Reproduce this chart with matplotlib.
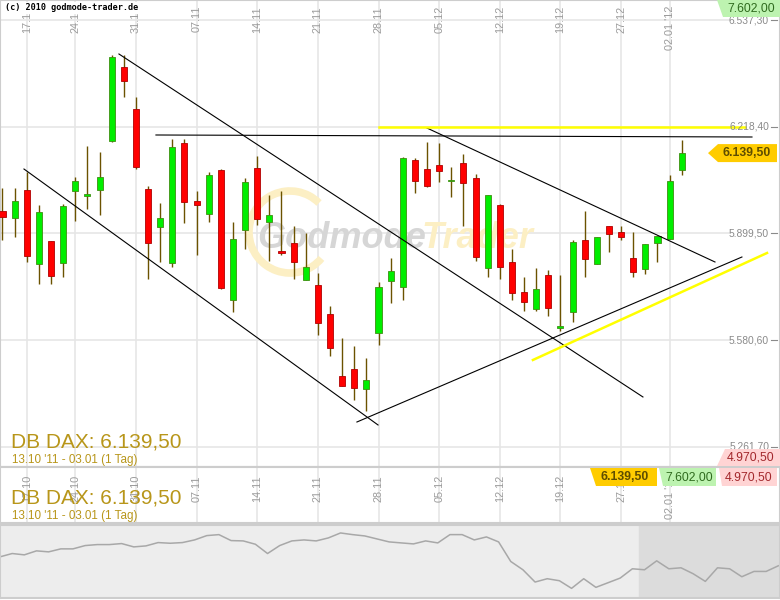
import matplotlib
matplotlib.use("Agg")
import matplotlib.pyplot as plt
from matplotlib.patches import Polygon, Arc
from matplotlib.transforms import blended_transform_factory, IdentityTransform
import numpy as np

plt.rcParams['font.family'] = ['Liberation Sans', 'DejaVu Sans']

# daily DAX candles, 13.10.2011 - 03.01.2012
opens = [5966.4, 5945.5, 6029.2, 5808.0, 5876.8, 5811.0, 6026.2, 6011.3, 6029.2, 6175.7,
         6396.8, 6271.3, 6032.2, 5918.6, 5811.0, 6169.7, 5996.3, 5957.5, 6089.0, 5700.4,
         5909.6, 6094.9, 5933.5, 5846.9, 5870.8, 5760.2, 5745.2, 5658.6, 5473.2, 5494.2,
         5434.4, 5601.8, 5757.2, 5739.3, 6118.9, 6092.0, 6103.9, 6056.1, 6109.9, 6065.1,
         5796.0, 5984.4, 5814.0, 5724.3, 5673.5, 5775.1, 5616.7, 5664.5, 5879.7, 5808.0,
         5921.6, 5903.7, 5825.9, 5793.1, 5870.8, 5882.7, 6089.0]
highs = [6035.2, 6035.2, 6083.0, 5984.4, 5878.0, 5987.4, 6068.0, 6160.7, 6142.8, 6432.7,
         6432.7, 6307.2, 6040.0, 5990.3, 6181.6, 6181.6, 6026.2, 6083.0, 6092.0, 5933.5,
         6065.1, 6130.8, 6014.2, 6026.2, 5921.6, 5900.7, 5781.1, 5682.5, 5586.8, 5562.9,
         5527.0, 5754.2, 5825.9, 6127.8, 6124.8, 6172.7, 6169.7, 6097.9, 6136.8, 6077.0,
         6014.2, 5987.4, 5852.8, 5769.1, 5796.0, 5790.1, 5775.1, 5879.7, 5966.4, 5888.7,
         5921.6, 5921.6, 5903.7, 5867.8, 5891.7, 6074.0, 6178.6]
lows = [5879.7, 5888.7, 5814.0, 5748.2, 5748.2, 5769.1, 5936.5, 5972.4, 5954.5, 6172.0,
        6307.2, 6092.0, 5763.2, 5814.0, 5799.0, 5930.6, 5834.9, 5933.5, 5733.3, 5664.5,
        5852.8, 5924.6, 5817.0, 5834.9, 5763.2, 5760.2, 5595.8, 5533.0, 5443.3, 5401.5,
        5368.6, 5565.9, 5691.4, 5700.4, 6020.2, 6038.0, 6053.1, 6008.3, 5921.6, 5817.0,
        5769.1, 5763.2, 5700.4, 5667.5, 5667.5, 5652.6, 5607.7, 5634.6, 5769.1, 5808.0,
        5843.9, 5879.7, 5769.1, 5778.1, 5814.0, 5882.7, 6074.0]
closes = [5948.5, 5996.3, 5831.9, 5963.4, 5772.1, 5981.4, 6056.1, 6017.2, 6068.0, 6426.7,
          6355.0, 6097.9, 5870.8, 5945.5, 6157.7, 5993.3, 5984.4, 6074.0, 5736.3, 5882.7,
          6053.1, 5942.5, 5954.5, 5840.9, 5814.0, 5799.0, 5631.7, 5556.9, 5443.3, 5437.4,
          5461.3, 5739.3, 5787.1, 6124.8, 6056.1, 6041.1, 6086.0, 6059.1, 6050.1, 5828.9,
          6014.2, 5799.0, 5721.3, 5694.4, 5733.3, 5676.5, 5622.7, 5873.8, 5822.9, 5888.7,
          5897.7, 5888.7, 5784.1, 5867.8, 5891.7, 6056.1, 6139.5]

date_idx = [2, 6, 11, 16, 21, 26, 31, 36, 41, 46, 51, 55]
date_labels = ['17.10', '24.10', '31.10', '07.11', '14.11', '21.11', '28.11',
               '05.12', '12.12', '19.12', '27.12', "02.01 '12"]

price_ticks = [6537.30, 6218.40, 5899.50, 5580.60, 5261.70]

# hand drawn trend lines: (index, price) start and end
black_lines = [((9.60, 6435.7), (52.80, 5410.5)),
               ((1.77, 6091.9), (30.96, 5326.8)),
               ((29.22, 5335.7), (60.96, 5828.9)),
               ((34.99, 6214.5), (58.74, 5814.0)),
               ((12.65, 6193.6), (61.79, 6187.6))]
yellow_lines = [((31.04, 6218.4), (61.21, 6218.4)),
                ((43.73, 5521.1), (63.03, 5840.9))]

# weekly overview in the bottom strip
overview = [6467, 6625, 6562, 6751, 6704, 6846, 6846, 7003, 7050, 7050, 7098, 6940, 6987,
            7145, 7113, 7145, 7271, 7476, 7523, 7240, 7224, 7066, 6625, 7003, 7224, 7271,
            7224, 7366, 7602, 7523, 7460, 7318, 7177, 7129, 7082, 7224, 7129, 7523, 7523,
            7271, 7413, 7177, 6247, 5853, 5270, 5428, 5333, 4970, 5428, 5018, 5238, 5459,
            5900, 5853, 6278, 5900, 5947, 5664, 5301, 5947, 5900, 5522, 5774, 5774, 6042]

last_txt = '6.139,50'
max_txt = '7.602,00'
min_txt = '4.970,50'

W, H = 780, 600


def P(x, y):
    return (x / W, 1 - y / H)


fig = plt.figure(figsize=(7.8, 6), dpi=100)
frame = '#cdcdcd'
grid = '#e6e6e6'

# ---------------- main panel
ax = fig.add_axes([0, 1 - 467 / H, 1, 467 / H])
ax.set_xlim(-0.206, 64.1)
ax.set_ylim(5201.2, 6597.1)
ax.set_xticks([])
ax.set_yticks([])
for s in ax.spines.values():
    s.set_color(frame)
    s.set_linewidth(1.5)

for i in date_idx:
    ax.axvline(i, color=grid, lw=1.2, zorder=0)
ax.hlines(price_ticks, -0.3, 60.1, color=grid, lw=1.2, zorder=0)

# watermark
ax.text(*P(257, 248), 'Godmode', transform=fig.transFigure, fontsize=26,
        weight='bold', style='italic', color='#d6d6d6', zorder=1)
ax.text(*P(421, 248), 'Trader', transform=fig.transFigure, fontsize=26,
        weight='bold', style='italic', color='#fcefc4', zorder=1)
ax.add_patch(Arc((290, H - 232), 82, 82, theta1=45, theta2=320, lw=5.5,
                 color='#fcefc4', transform=IdentityTransform(), zorder=1))

o = np.array(opens); c = np.array(closes)
up = c >= o
idx = np.arange(len(o))
ax.vlines(idx, lows, highs, color='#6b5200', lw=1.0, zorder=3)
body_lo = np.minimum(o, c)
body_h = np.maximum(np.abs(c - o), 4)
ax.bar(idx[up], body_h[up], bottom=body_lo[up], width=0.5, color='#00ee00',
       edgecolor='#3d8f10', lw=0.6, zorder=4)
ax.bar(idx[~up], body_h[~up], bottom=body_lo[~up], width=0.5, color='#ff0000',
       edgecolor='#b00000', lw=0.6, zorder=4)

for (x0, y0), (x1, y1) in black_lines:
    ax.plot([x0, x1], [y0, y1], color='black', lw=0.8, zorder=5)
for (x0, y0), (x1, y1) in yellow_lines:
    ax.plot([x0, x1], [y0, y1], color='#ffff00', lw=1.8, zorder=5)

for i, lab in zip(date_idx, date_labels):
    ax.text(i, 6597.1 - 6 * 2.989, lab, rotation=90, ha='center', va='top',
            fontsize=7.8, color='#9b9b9b', zorder=2)

bt = blended_transform_factory(ax.transAxes, ax.transData)
for p in price_ticks:
    lab = f'{p:,.2f}'.replace(',', 'X').replace('.', ',').replace('X', '.')
    ax.text(0.986, p, lab, transform=bt, ha='right', va='center', fontsize=7.4,
            color='#8a8a8a', zorder=6)
    ax.plot([0.988, 0.996], [p, p], transform=bt, color='#8a8a8a', lw=0.8, zorder=6)

ax.text(*P(5, 8), '(c) 2010 godmode-trader.de', transform=fig.transFigure,
        family='DejaVu Sans Mono', fontsize=6.1, weight='bold', va='center',
        color='black', zorder=7,
        bbox=dict(facecolor='white', edgecolor='none', pad=1))

# ---------------- date strip
ax2 = fig.add_axes([0, 1 - 523 / H, 1, 56 / H])
ax2.set_xlim(-0.206, 64.1)
ax2.set_ylim(0, 1)
ax2.set_xticks([])
ax2.set_yticks([])
for s in ax2.spines.values():
    s.set_color(frame)
    s.set_linewidth(1.5)
for i, lab in zip(date_idx, date_labels):
    ax2.axvline(i, color=grid, lw=1.2, zorder=0)
    ax2.text(i, (523 - 475) / 56, lab, rotation=90, ha='center', va='top',
             fontsize=7.8, color='#9b9b9b')

# ---------------- overview strip
ax3 = fig.add_axes([0, 2 / H, 1, 73 / H])
ax3.set_facecolor('#ededed')
ax3.set_xlim(0, 64.14)
ax3.set_ylim(4512, 7980)
ax3.axvspan(52.55, 64.2, color='#dcdcdc', zorder=0)
ax3.plot(np.arange(len(overview)), overview, color='#a8a8a8', lw=1.1)
ax3.set_xticks([])
ax3.set_yticks([])
for s in ax3.spines.values():
    s.set_color(frame)
    s.set_linewidth(1.5)

# ---------------- titles
gold = '#b8961a'
for yb, ys in [(448, 463), (504, 519)]:
    fig.text(*P(11, yb), 'DB DAX: ' + last_txt, fontsize=15, color=gold, va='baseline')
    fig.text(*P(12, ys), "13.10 '11 - 03.01 (1 Tag)", fontsize=8.4, color=gold,
             va='baseline')

# ---------------- badges
def badge(pts, fc, txt, tc, cx, cy, bold=False):
    fig.add_artist(Polygon([P(x, y) for x, y in pts], closed=True, fc=fc, ec='none',
                           transform=fig.transFigure, zorder=8))
    fig.text(*P(cx, cy), txt, ha='center', va='center', fontsize=8.8, color=tc,
             weight='bold' if bold else 'normal', zorder=9)

green_fc, green_tc = '#bdf3b0', '#2f6b1e'
pink_fc, pink_tc = '#ffd4d4', '#a3282c'
yell_fc, yell_tc = '#ffcc00', '#5e4d00'

yl = H - ax.transData.transform((0, closes[-1]))[1]
badge([(708, yl), (718, yl - 9), (777, yl - 9), (777, yl + 9), (718, yl + 9)],
      yell_fc, last_txt, yell_tc, 747, yl, bold=True)
badge([(717, 0), (780, 0), (780, 17), (723, 17)], green_fc, max_txt, green_tc, 751, 8.5)
badge([(725, 449), (780, 449), (780, 466), (717, 466)], pink_fc, min_txt, pink_tc, 751, 457.5)

badge([(590, 468), (657, 468), (657, 486), (596, 486)], yell_fc, last_txt, yell_tc, 625, 477, bold=True)
badge([(659, 468), (716, 468), (716, 486), (663, 486)], green_fc, max_txt, green_tc, 689, 477)
badge([(719, 468), (777, 468), (777, 486), (722, 486)], pink_fc, min_txt, pink_tc, 749, 477)

fig.savefig('out.png', dpi=100)
